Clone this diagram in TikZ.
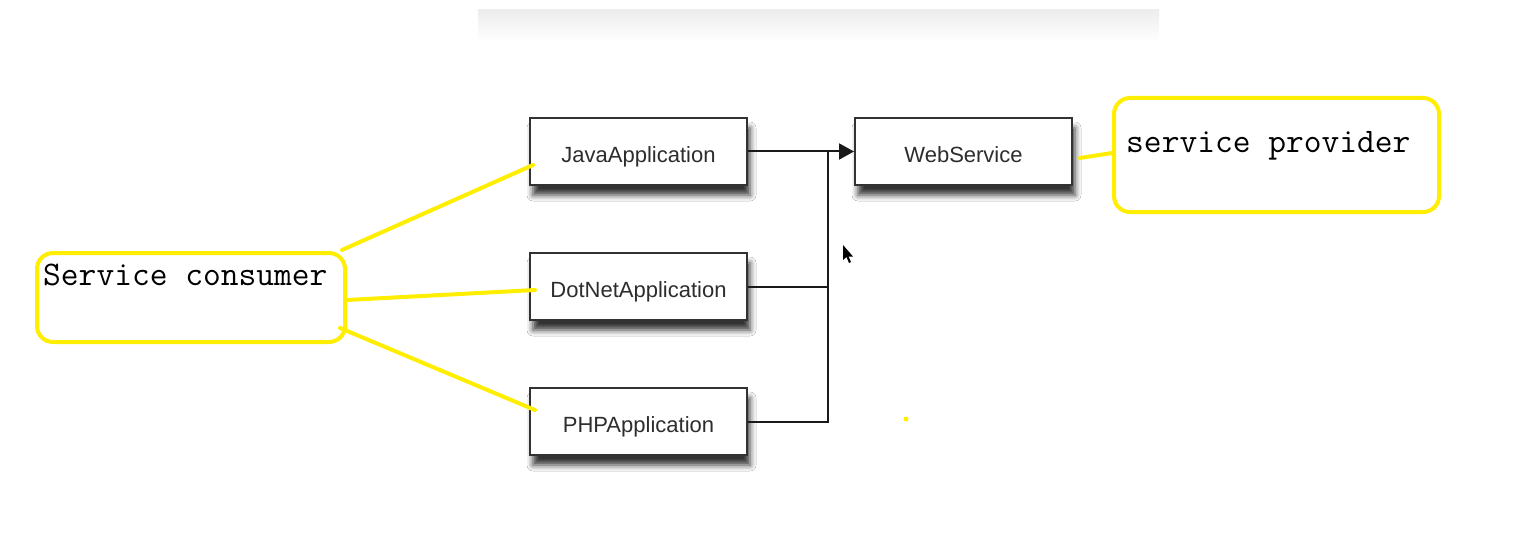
\documentclass[tikz,border=0pt]{standalone}
\usepackage{fontspec}
\setmainfont{Liberation Sans}
\usetikzlibrary{shadows.blur,arrows.meta,calc}
\definecolor{hl}{RGB}{255,238,0}
\definecolor{boxline}{RGB}{50,50,50}
\definecolor{apptext}{RGB}{45,45,45}
\begin{document}
\begin{tikzpicture}[x=1pt,y=-1pt,
 appbox/.style={draw=boxline, line width=2pt, fill=white, minimum width=217pt, minimum height=67pt, inner sep=0pt,
   font=\fontsize{22}{26}\selectfont, text=apptext, text height=22pt, text depth=0pt,
   blur shadow={shadow xshift=3pt, shadow yshift=-10pt, shadow blur radius=6pt, shadow opacity=80}},
 hlbox/.style={draw=hl, line width=4pt, rounded corners=16pt, inner sep=0pt},
 hlline/.style={draw=hl, line width=4pt, line cap=round},
 monotext/.style={font=\ttfamily\fontsize{34.5}{37}\selectfont, anchor=base west, inner sep=0pt},
 conn/.style={draw=black!90, line width=2pt}
]
\useasboundingbox (0,0) rectangle (1530,540);
\fill[white] (0,0) rectangle (1530,540);
\shade[top color=black!7, bottom color=white] (478,10) rectangle (1159,42);

% application boxes
\node[appbox] (java)   at (638.5,151.5) {JavaApplication};
\node[appbox] (dotnet) at (638.5,286.5) {DotNetApplication};
\node[appbox] (php)    at (638.5,421.5) {PHPApplication};
\node[appbox] (ws)     at (963.5,151.5) {WebService};

% connectors
\coordinate (jn) at (828,151.5);
\draw[conn, -{Triangle[length=15pt,width=16pt]}] (java.east) -- (ws.west);
\draw[conn] (dotnet.east) -| (jn);
\draw[conn] (php.east) -| (jn);

% mouse cursor
\fill[black] (843,245) -- (843,260) -- (846.5,257) -- (849,263) -- (851,262) -- (848.5,256.5) -- (853,256.5) -- cycle;

% highlight boxes
\node[hlbox, minimum width=308pt, minimum height=89pt] (cons) at (191,297.5) {};
\node[hlbox, minimum width=325pt, minimum height=114pt] (prov) at (1276.5,155) {};
\node[monotext] (constext) at (43,285) {Service consumer};
\node[monotext] (provtext) at (1126,153) {service provider};

% highlight lines
\coordinate (c1) at (342,250);
\coordinate (c2) at (347,300);
\coordinate (c3) at (340,328);
\coordinate (j1) at (533,165);
\coordinate (d1) at (535,290);
\coordinate (p1) at (535,410);
\coordinate (w1) at (1080,158);
\coordinate (v1) at (1112,153);
\draw[hlline] (c1) -- (j1);
\draw[hlline] (c2) -- (d1);
\draw[hlline] (c3) -- (p1);
\draw[hlline] (w1) -- (v1);
\fill[hl] (906,419) circle (2.5);
\end{tikzpicture}
\end{document}
